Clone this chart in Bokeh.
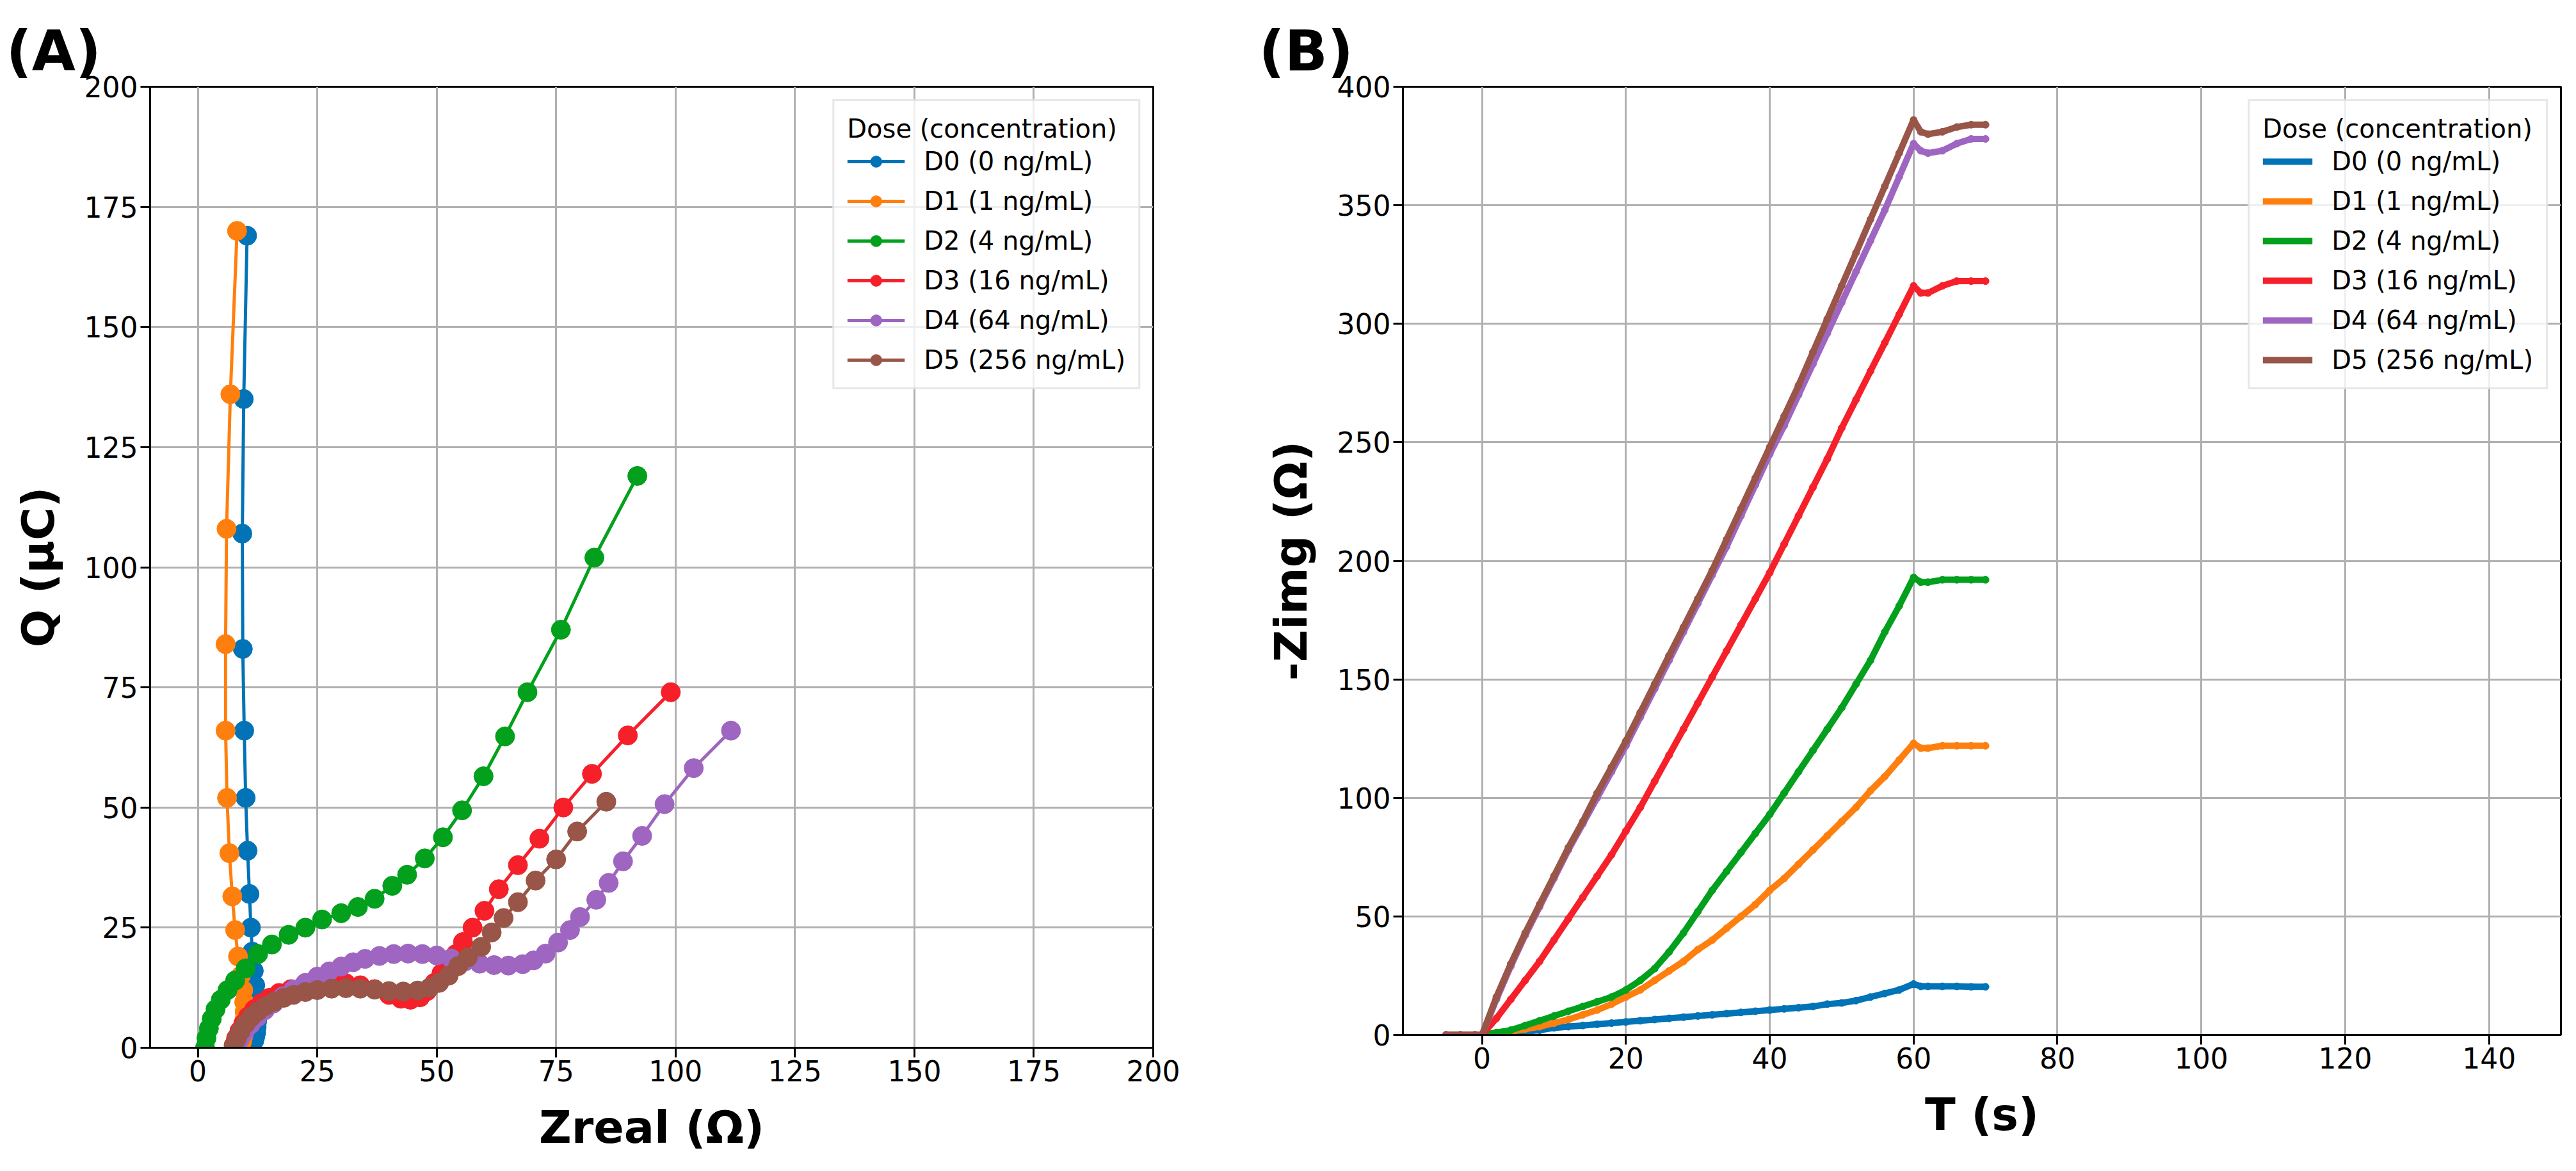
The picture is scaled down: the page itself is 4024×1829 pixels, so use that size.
from bokeh.plotting import figure
from bokeh.layouts import row
from bokeh.models import Range1d, FixedTicker, Legend, LegendItem
from bokeh.embed import file_html
from bokeh.resources import INLINE

labels = ["D0 (0 ng/mL)", "D1 (1 ng/mL)", "D2 (4 ng/mL)", "D3 (16 ng/mL)", "D4 (64 ng/mL)", "D5 (256 ng/mL)"]
colors = ["#0173b6", "#ff7f0e", "#02a01c", "#f5202a", "#9e66c0", "#985548"]

# Panel A: Zreal vs Q
a_d0_x = [10.3, 9.6, 9.3, 9.4, 9.7, 10.0, 10.4, 10.8, 11.1, 11.4, 11.7, 12.0, 12.2, 12.3, 12.4, 12.4, 12.3, 12.2, 12.0, 11.8]
a_d0_y = [169, 135, 107, 83, 66, 52, 41, 32, 25, 20, 16, 13, 10.5, 8.5, 7, 5.5, 4.3, 3.2, 2.3, 1.5]
a_d1_x = [8.2, 6.8, 6.0, 5.8, 5.8, 6.1, 6.6, 7.2, 7.8, 8.4, 9.0, 9.5, 9.7, 9.8, 9.8, 9.7, 9.6, 9.5, 9.3, 9.1]
a_d1_y = [170, 136, 108, 84, 66, 52, 40.5, 31.5, 24.5, 19, 15, 12, 9.5, 7.5, 6, 4.5, 3.5, 2.5, 1.5, 0.8]
a_d2_x = [1.5, 1.8, 2.3, 2.9, 3.7, 4.8, 6.2, 7.8, 10, 12.6, 15.5, 19, 22.5, 26, 30, 33.5, 37, 40.7, 43.8, 47.5, 51.3, 55.3, 59.8, 64.3, 69, 76, 83, 92]
a_d2_y = [0, 2, 4, 6, 8, 10, 12, 14, 16.5, 19.5, 21.5, 23.5, 25, 26.7, 28, 29.3, 31, 33.7, 36, 39.4, 43.8, 49.4, 56.5, 64.8, 74, 87, 102, 119]
a_d3_x = [7.5, 8, 8.7, 9.5, 10.5, 11.8, 13.3, 15, 17, 19.5, 22, 25, 28, 31, 34, 37, 40, 42.5, 44.5, 46.5, 48, 49.5, 51, 52.5, 54, 55.5, 57.5, 60, 63, 67, 71.5, 76.5, 82.5, 90, 99]
a_d3_y = [0.5, 2, 3.5, 5, 6.5, 8, 9.3, 10.4, 11.4, 12.2, 12.8, 13.2, 13.5, 13.4, 13, 12.2, 11, 10.2, 10, 10.5, 11.8, 13.5, 15.5, 17.5, 19.5, 22, 25, 28.5, 33, 38, 43.5, 50, 57, 65, 74]
a_d4_x = [8, 8.8, 9.8, 11, 12.4, 14, 15.8, 17.8, 20, 22.5, 25, 27.5, 30, 32.5, 35, 38, 41, 44, 47, 50, 53, 56, 59, 62, 65, 68, 70.3, 72.8, 75.4, 77.9, 80, 83.4, 86, 89, 93, 97.7, 103.8, 111.6]
a_d4_y = [0.3, 1.8, 3.3, 4.8, 6.3, 7.8, 9.2, 10.7, 12.1, 13.5, 14.8, 15.9, 16.9, 17.8, 18.5, 19.1, 19.5, 19.6, 19.5, 19.2, 18.6, 18, 17.5, 17.2, 17.1, 17.4, 18.2, 19.6, 21.9, 24.5, 27.2, 30.8, 34.3, 38.8, 44.1, 50.7, 58.2, 66]
a_d5_x = [7.5, 8.2, 9, 10, 11.2, 12.6, 14.2, 16, 18, 20, 22.5, 25, 28, 31, 34, 37, 40, 43, 46, 48.5, 50.5, 52.5, 54.5, 56.5, 59.3, 61.5, 64, 67, 70.7, 75, 79.4, 85.5]
a_d5_y = [0.5, 2, 3.5, 5, 6.4, 7.6, 8.7, 9.6, 10.4, 11, 11.6, 12, 12.3, 12.4, 12.3, 12.1, 11.8, 11.7, 11.9, 12.5, 13.5, 15, 17, 18.8, 21, 24, 27, 30.3, 34.8, 39.2, 45, 51.2]

# Panel B: T vs -Zimg
t_vals = [-5, -3, -1, 0, 2, 4, 6, 8, 10, 12, 14, 16, 18, 20, 22, 24, 26, 28, 30, 32, 34, 36, 38, 40,
          42, 44, 46, 48, 50, 52, 54, 56, 58, 60, 61, 62, 64, 66, 68, 70]
b_d0 = [0, 0, 0, 0, 0.5, 1, 1.5, 2, 3, 3.5, 4, 4.5, 5, 5.5, 6, 6.5, 7, 7.5, 8, 8.5, 9, 9.5, 10, 10.5,
        11, 11.5, 12, 13, 13.5, 14.5, 16, 17.5, 19, 21.5, 20.5, 20.5, 20.5, 20.5, 20.3, 20.3]
b_d1 = [0, 0, 0, 0, 0.5, 1.5, 2.5, 3.5, 5, 6.5, 8.5, 10.5, 13, 16, 19, 23, 27, 31, 36, 40, 45, 50, 55, 61,
        66, 72, 78, 84, 90, 96, 103, 109, 116, 123, 121, 121, 122, 122, 122, 122]
b_d2 = [0, 0, 0, 0, 1, 2, 4, 6, 8, 10, 12, 14, 16, 19, 23, 28, 35, 43, 52, 61, 69, 77, 85, 93,
        102, 111, 120, 129, 138, 148, 158, 170, 181, 193, 191, 191, 192, 192, 192, 192]
b_d3 = [0, 0, 0, 0, 7, 15, 23, 31, 40, 49, 58, 67, 76, 86, 96, 107, 118, 129, 140, 151, 162, 173, 184, 195,
        207, 219, 231, 243, 256, 268, 280, 292, 304, 316, 313, 313, 316, 318, 318, 318]
b_d4 = [0, 0, 0, 0, 15, 29, 42, 54, 66, 78, 89, 100, 111, 122, 134, 146, 158, 170, 182, 194, 206, 219, 232, 245,
        257, 270, 283, 296, 309, 322, 335, 348, 362, 376, 373, 372, 373, 376, 378, 378]
b_d5 = [0, 0, 0, 0, 16, 30, 43, 55, 67, 79, 90, 102, 113, 124, 136, 148, 160, 172, 184, 196, 209, 222, 235, 248,
        261, 274, 288, 302, 316, 330, 344, 358, 372, 386, 381, 380, 381, 383, 384, 384]

a_xticks = [0, 25, 50, 75, 100, 125, 150, 175, 200]
a_yticks = [0, 25, 50, 75, 100, 125, 150, 175, 200]
b_xticks = [0, 20, 40, 60, 80, 100, 120, 140]
b_yticks = [0, 50, 100, 150, 200, 250, 300, 350, 400]

FONT = "DejaVu Sans"


def style(p, xlab, ylab, xt, yt, panel):
    p.title.text = panel
    p.title.text_font = FONT
    p.title.text_font_size = "88px"
    p.title.text_font_style = "bold"
    p.title.text_color = "black"
    p.title.align = "left"
    p.title.offset = -225
    p.title.standoff = 10
    p.xaxis.ticker = FixedTicker(ticks=xt)
    p.yaxis.ticker = FixedTicker(ticks=yt)
    for ax, lab in ((p.xaxis, xlab), (p.yaxis, ylab)):
        ax.axis_label = lab
        ax.axis_label_text_font = FONT
        ax.axis_label_text_font_size = "70px"
        ax.axis_label_text_font_style = "bold"
        ax.axis_label_text_color = "black"
        ax.axis_label_standoff = 28
        ax.major_label_text_font = FONT
        ax.major_label_text_font_size = "44px"
        ax.major_label_text_color = "black"
        ax.major_label_standoff = 4
        ax.major_tick_out = 15
        ax.major_tick_in = 0
        ax.minor_tick_out = 0
        ax.minor_tick_in = 0
        ax.major_tick_line_width = 3
        ax.major_tick_line_color = "black"
        ax.axis_line_width = 3
        ax.axis_line_color = "black"
    p.grid.grid_line_color = "#b0b0b0"
    p.grid.grid_line_width = 3
    p.outline_line_color = "black"
    p.outline_line_width = 3


def legend(p, items, glyph_w, glyph_h):
    lg = Legend(items=items, location="top_right", title="Dose (concentration)")
    lg.title_text_font = FONT
    lg.title_text_font_size = "40px"
    lg.title_text_font_style = "normal"
    lg.title_text_color = "black"
    lg.label_text_font = FONT
    lg.label_text_font_size = "40px"
    lg.label_text_color = "black"
    lg.glyph_width = glyph_w
    lg.glyph_height = glyph_h
    lg.label_height = 44
    lg.spacing = 16
    lg.padding = 20
    lg.margin = 20
    lg.label_standoff = 30
    lg.border_line_color = "#d0d0d0"
    lg.border_line_width = 3
    lg.background_fill_alpha = 0.8
    p.add_layout(lg)


pA = figure(frame_width=1567, frame_height=1501, width=1960, height=1810,
            min_border_left=234, min_border_right=159, min_border_top=135, min_border_bottom=174,
            x_range=Range1d(-10, 200), y_range=Range1d(0, 200),
            output_backend="svg", toolbar_location=None)
style(pA, "Zreal (Ω)", "Q (µC)", a_xticks, a_yticks, "(A)")
a_series = [(a_d0_x, a_d0_y), (a_d1_x, a_d1_y), (a_d2_x, a_d2_y), (a_d3_x, a_d3_y), (a_d4_x, a_d4_y), (a_d5_x, a_d5_y)]
items = []
for (xs, ys), c, lab in zip(a_series, colors, labels):
    l = pA.line(xs, ys, line_color=c, line_width=5)
    s = pA.scatter(xs, ys, size=30, fill_color=c, line_color=c)
    items.append(LegendItem(label=lab, renderers=[l, s]))
legend(pA, items, 90, 44)

pB = figure(frame_width=1809, frame_height=1481, width=2048, height=1810,
            min_border_left=231, min_border_right=8, min_border_top=134, min_border_bottom=195,
            x_range=Range1d(-11, 150), y_range=Range1d(0, 400),
            output_backend="svg", toolbar_location=None)
style(pB, "T (s)", "-Zimg (Ω)", b_xticks, b_yticks, "(B)")
b_series = [b_d0, b_d1, b_d2, b_d3, b_d4, b_d5]
items = []
for ys, c, lab in zip(b_series, colors, labels):
    l = pB.line(t_vals, ys, line_color=c, line_width=10)
    s = pB.scatter(t_vals, ys, size=11, fill_color=c, line_color=c)
    items.append(LegendItem(label=lab, renderers=[l, s]))
legend(pB, items, 78, 20)

layout = row(pA, pB)
open("out.html", "w").write(file_html(layout, INLINE))
